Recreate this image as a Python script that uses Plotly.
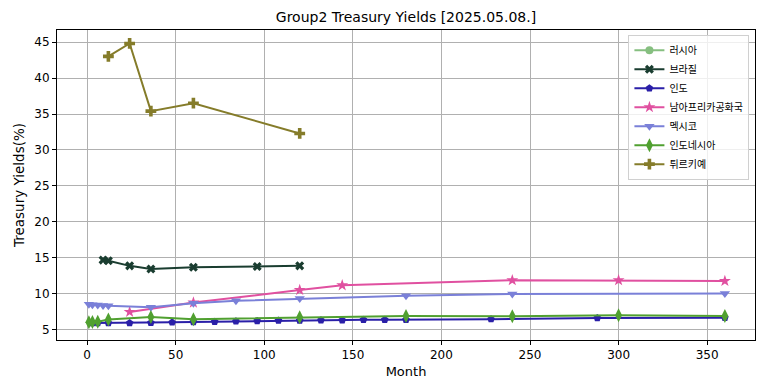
import plotly.graph_objects as go

names = ["러시아", "브라질", "인도", "남아프리카공화국", "멕시코", "인도네시아", "튀르키예"]
colors = ["#86bf80", "#1a3d30", "#2a1fa8", "#e050a0", "#7a80d8", "#50a030", "#857c2a"]
symbols = ["circle", "x", "pentagon", "star", "triangle-down", "diamond-tall", "cross"]
sizes = [8, 8, 8, 9, 9, 10, 9]

russia_m = [None]
russia_y = [None]

brazil_m = [9, 12, 24, 36, 60, 96, 120]
brazil_y = [14.7, 14.6, 13.9, 13.45, 13.7, 13.8, 13.9]

india_m = [3, 6, 12, 24, 36, 48, 60, 72, 84, 96, 108, 120, 132, 144, 156, 168, 180, 228, 288, 360]
india_y = [5.95, 5.95, 5.95, 5.95, 6.0, 6.05, 6.1, 6.15, 6.2, 6.25, 6.3, 6.3, 6.35, 6.35, 6.4, 6.4, 6.4, 6.5, 6.65, 6.7]

sa_m = [24, 60, 120, 144, 240, 300, 360]
sa_y = [7.5, 8.8, 10.55, 11.2, 11.9, 11.9, 11.8]

mexico_m = [1, 3, 6, 9, 12, 36, 60, 84, 120, 180, 240, 360]
mexico_y = [8.55, 8.5, 8.45, 8.4, 8.35, 8.15, 8.7, 9.05, 9.35, 9.75, 10.0, 10.05]

indonesia_m = [1, 3, 6, 12, 36, 60, 120, 180, 240, 300, 360]
indonesia_y = [6.05, 6.1, 6.15, 6.45, 6.8, 6.5, 6.75, 6.95, 6.9, 7.05, 6.95]

turkey_m = [12, 24, 36, 60, 120]
turkey_y = [43.0, 44.8, 35.4, 36.5, 32.3]

xs = [russia_m, brazil_m, india_m, sa_m, mexico_m, indonesia_m, turkey_m]
ys = [russia_y, brazil_y, india_y, sa_y, mexico_y, indonesia_y, turkey_y]

fig = go.Figure()
for n, c, s, sz, x, y in zip(names, colors, symbols, sizes, xs, ys):
    fig.add_trace(go.Scatter(
        x=x, y=y, name=n, mode="lines+markers",
        line=dict(color=c, width=2),
        marker=dict(symbol=s, size=sz, color=c),
        showlegend=True,
    ))

axis_common = dict(
    showgrid=True, gridcolor="#b0b0b0", gridwidth=1,
    showline=True, linecolor="black", linewidth=1, mirror=True,
    ticks="outside", ticklen=4, tickcolor="black",
    zeroline=False, tickfont=dict(size=12, color="black"),
    automargin=False,
)

fig.update_layout(
    width=764, height=391,
    margin=dict(l=57, r=9, t=30, b=51),
    paper_bgcolor="white", plot_bgcolor="white",
    font=dict(family="DejaVu Sans", color="black"),
    title=dict(text="Group2 Treasury Yields [2025.05.08.]", xref="paper", x=0.5, xanchor="center",
               y=1 - 17 / 391, yanchor="middle", font=dict(size=14)),
    xaxis=dict(range=[-17, 377], tickvals=[0, 50, 100, 150, 200, 250, 300, 350],
               title=dict(text="Month", font=dict(size=13), standoff=5), **axis_common),
    yaxis=dict(range=[3.6, 46.67], tickvals=[5, 10, 15, 20, 25, 30, 35, 40, 45],
               title=dict(text="Treasury Yields(%)", font=dict(size=13.5), standoff=6), **axis_common),
    legend=dict(x=0.992, y=0.985, xanchor="right", yanchor="top",
                bgcolor="rgba(255,255,255,0.8)", bordercolor="#d0d0d0", borderwidth=1,
                font=dict(size=10, family="Noto Sans CJK KR"), tracegroupgap=0,
                itemwidth=30),
)

fig.write_html("out.html", config={"displayModeBar": False},
               post_script="document.body.style.margin='0';")
